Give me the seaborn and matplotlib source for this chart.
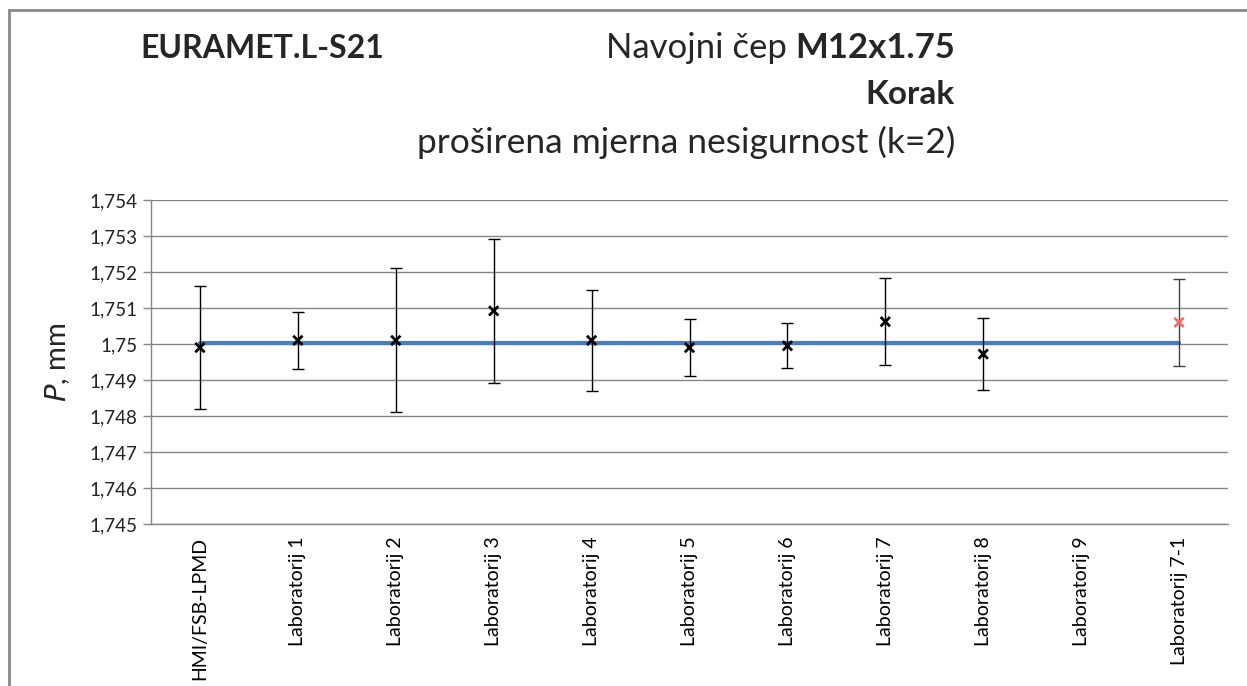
import numpy as np
import pandas as pd
import matplotlib
matplotlib.use("Agg")
import matplotlib.pyplot as plt
from matplotlib.patches import Rectangle
import seaborn as sns

# Laboratories in the comparison
labs = ["HMI/FSB-LPMD", "Laboratorij 1", "Laboratorij 2", "Laboratorij 3",
        "Laboratorij 4", "Laboratorij 5", "Laboratorij 6", "Laboratorij 7",
        "Laboratorij 8", "Laboratorij 9", "Laboratorij 7-1"]
# Measured pitch P (mm); Laboratorij 9 reported no value
pitch = [1.74990, 1.75010, 1.75010, 1.75092, 1.75010, 1.74990, 1.74995,
         1.75062, 1.74972, np.nan, 1.75060]
# Expanded uncertainty U (k=2), mm
unc = [0.00170, 0.00080, 0.00200, 0.00200, 0.00140, 0.00080, 0.00063,
       0.00120, 0.00100, np.nan, 0.00120]
# Reference value
ref_value = 1.75002
y_ticks = [1.745, 1.746, 1.747, 1.748, 1.749, 1.750, 1.751, 1.752, 1.753, 1.754]

sns.set_theme(style="white")
plt.rcParams["font.family"] = ["Lato", "DejaVu Sans"]

W, H = 1247, 686
fig = plt.figure(figsize=(W / 100, H / 100), dpi=100)
ax = fig.add_axes([151 / W, 1 - 524 / H, (1228 - 151) / W, (524 - 200) / H])

pos = np.arange(len(labs))
df = pd.DataFrame({"pos": pos, "lab": labs, "P": pitch, "U": unc,
                   "ref": [ref_value] * len(labs)})
df["group"] = ["main"] * (len(labs) - 1) + ["repeat"]

# Reference line across all laboratories
sns.lineplot(data=df, x="pos", y="ref", ax=ax, color="#4A7EBB", lw=3, zorder=2)

# Uncertainty bars
valid = df.dropna()
main = valid[valid["group"] == "main"]
rep = valid[valid["group"] == "repeat"]
ax.errorbar(main["pos"], main["P"], yerr=main["U"], fmt="none", ecolor="black",
            elinewidth=1, capsize=4, capthick=1, zorder=3)
ax.errorbar(rep["pos"], rep["P"], yerr=rep["U"], fmt="none", ecolor="#404040",
            elinewidth=1, capsize=4, capthick=1, zorder=3)

# Measured values
sns.scatterplot(data=valid, x="pos", y="P", hue="group",
                palette={"main": "black", "repeat": "#F26B6B"},
                marker="x", s=45, linewidth=2, legend=False, ax=ax, zorder=4)

ax.set_xlim(-0.5, len(labs) - 0.5)
ax.set_ylim(1.745, 1.754)
ax.set_yticks(y_ticks)
ax.set_yticklabels([f"{v:g}".replace(".", ",") for v in y_ticks], fontsize=13.5, color="#222222")
ax.set_xticks(pos)
ax.set_xticklabels(labs, rotation=90, fontsize=14, color="black")
ax.tick_params(axis="y", length=6, width=1, color="#868686", direction="out", left=True, pad=4)
ax.tick_params(axis="x", length=0, pad=9)
ax.grid(axis="y", color="#868686", lw=1)
ax.set_axisbelow(True)
for side in ("top", "right"):
    ax.spines[side].set_visible(False)
for side in ("left", "bottom"):
    ax.spines[side].set_color("#868686")
    ax.spines[side].set_linewidth(1)
ax.set_xlabel("")
ax.set_ylabel(r"$\it{P}$, mm", fontsize=21)
ax.yaxis.set_label_coords(72 / W, 1 - 362 / H, transform=fig.transFigure)

# Titles
fig.text(140 / W, 1 - 48 / H, "EURAMET.L-S21", fontsize=23, fontweight="bold",
         ha="left", va="center")
bold_part = fig.text(955 / W, 1 - 48 / H, "M12x1.75", fontsize=25, fontweight="bold",
                     ha="right", va="center")
fig.canvas.draw()
bb = bold_part.get_window_extent(renderer=fig.canvas.get_renderer())
fig.text((bb.x0 - 8) / W, 1 - 48 / H, "Navojni čep", fontsize=25,
         ha="right", va="center")
fig.text(955 / W, 1 - 95 / H, "Korak", fontsize=24, fontweight="bold",
         ha="right", va="center")
fig.text(955 / W, 1 - 142 / H, "proširena mjerna nesigurnost (k=2)", fontsize=25.5,
         ha="right", va="center")

# Chart frame
fig.patches.append(Rectangle((9 / W, -0.1), 1.2, 1 - 10 / H + 0.1,
                             transform=fig.transFigure, fill=False,
                             edgecolor="#888888", lw=2))

fig.savefig("out.png", dpi=100)
